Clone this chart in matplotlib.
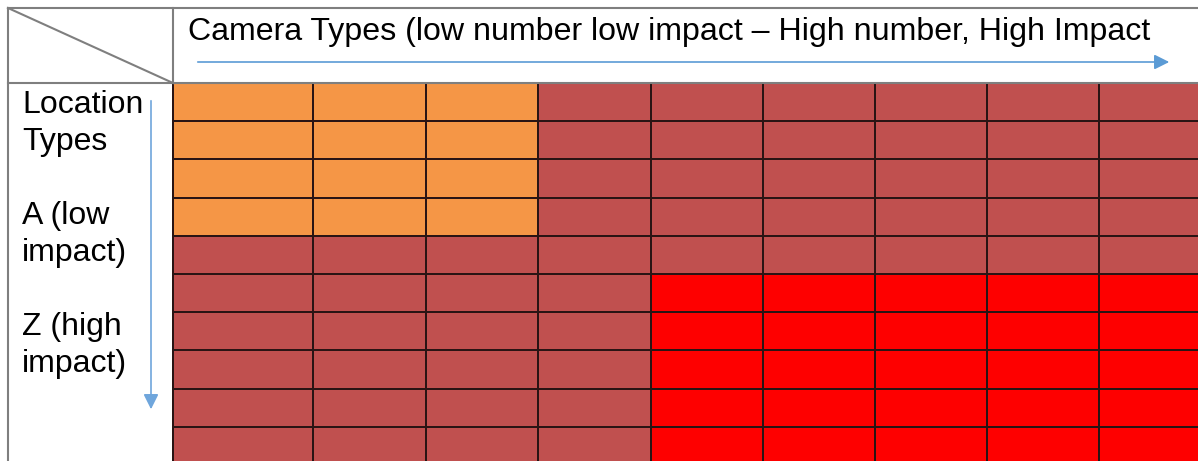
import numpy as np
import matplotlib.pyplot as plt
from matplotlib.colors import ListedColormap

# impact class of each cell: 0 = low (orange), 1 = medium, 2 = high (red)
grid_rows = [
    [0, 0, 0, 1, 1, 1, 1, 1, 1],
    [0, 0, 0, 1, 1, 1, 1, 1, 1],
    [0, 0, 0, 1, 1, 1, 1, 1, 1],
    [0, 0, 0, 1, 1, 1, 1, 1, 1],
    [1, 1, 1, 1, 1, 1, 1, 1, 1],
    [1, 1, 1, 1, 2, 2, 2, 2, 2],
    [1, 1, 1, 1, 2, 2, 2, 2, 2],
    [1, 1, 1, 1, 2, 2, 2, 2, 2],
    [1, 1, 1, 1, 2, 2, 2, 2, 2],
    [1, 1, 1, 1, 2, 2, 2, 2, 2],
]
impact_colors = ["#F59646", "#C0504F", "#FE0000"]
col_title = "Camera Types (low number low impact \u2013 High number, High Impact"
row_title = ["Location", "Types", "", "A (low", "impact)", "", "Z (high", "impact)"]

W, H = 1198, 461
fig = plt.figure(figsize=(W / 100, H / 100), dpi=100)
ax = fig.add_axes([0, 0, 1, 1])
ax.set_xlim(0, W)
ax.set_ylim(H, 0)
ax.axis("off")

# cell layout in pixels
x_edges = np.array([173, 313, 426, 538, 651, 763, 875, 987, 1099, 1211])
y_edges = 83 + 38.2 * np.arange(len(grid_rows) + 1)

ax.pcolormesh(x_edges, y_edges, np.array(grid_rows), cmap=ListedColormap(impact_colors),
              vmin=-0.5, vmax=2.5, edgecolors="#2a1414", linewidth=1.3)

# header frame
line = dict(color="#7f7f7f", lw=1.5)
ax.plot([8, W], [8, 8], **line)
ax.plot([8, W], [83, 83], **line)
ax.plot([8, 8], [8, H], **line)
ax.plot([173, 173], [8, 83], **line)
ax.plot([8, 173], [8, 83], **line)

# titles
font = ["Liberation Sans", "DejaVu Sans"]
ax.text(188, 40, col_title, fontsize=23.1, family=font, va="baseline", ha="left")
for i, s in enumerate(row_title):
    ax.text(22, 113 + 37 * i, s, fontsize=23, family=font, va="baseline", ha="left")

# direction arrows
arrow = dict(arrowstyle="-|>,head_length=0.9,head_width=0.45", color="#5b9bd5", lw=1.2)
ax.annotate("", xy=(1172, 62), xytext=(195, 62), arrowprops=arrow)
arrow_v = dict(arrow, color="#6fa6dc")
ax.annotate("", xy=(151, 412), xytext=(151, 98), arrowprops=arrow_v)

fig.savefig("out.png", dpi=100)
